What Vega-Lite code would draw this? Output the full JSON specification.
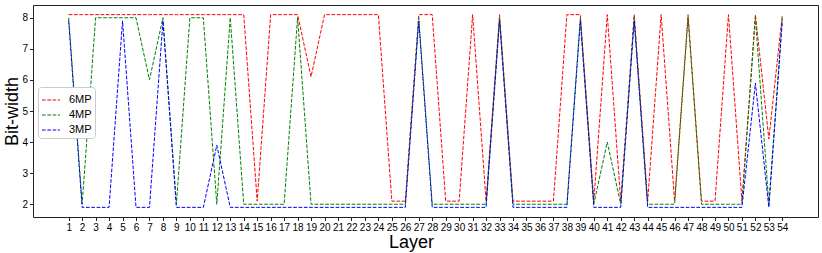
{
  "$schema": "https://vega.github.io/schema/vega-lite/v6.json",
  "autosize": {"type": "none"},
  "width": 785,
  "height": 212,
  "padding": {"left": 33, "top": 5, "right": 4, "bottom": 36},
  "background": "white",
  "config": {
    "font": "Liberation Sans",
    "view": {"stroke": "#222222", "strokeWidth": 1}
  },
  "data": {"values": [
    {"layer":1,"6MP":8.1,"4MP":8,"3MP":7.9},
    {"layer":2,"6MP":8.1,"4MP":2,"3MP":1.9},
    {"layer":3,"6MP":8.1,"4MP":8,"3MP":1.9},
    {"layer":4,"6MP":8.1,"4MP":8,"3MP":1.9},
    {"layer":5,"6MP":8.1,"4MP":8,"3MP":7.9},
    {"layer":6,"6MP":8.1,"4MP":8,"3MP":1.9},
    {"layer":7,"6MP":8.1,"4MP":6,"3MP":1.9},
    {"layer":8,"6MP":8.1,"4MP":8,"3MP":7.9},
    {"layer":9,"6MP":8.1,"4MP":2,"3MP":1.9},
    {"layer":10,"6MP":8.1,"4MP":8,"3MP":1.9},
    {"layer":11,"6MP":8.1,"4MP":8,"3MP":1.9},
    {"layer":12,"6MP":8.1,"4MP":2,"3MP":3.9},
    {"layer":13,"6MP":8.1,"4MP":8,"3MP":1.9},
    {"layer":14,"6MP":8.1,"4MP":2,"3MP":1.9},
    {"layer":15,"6MP":2.1,"4MP":2,"3MP":1.9},
    {"layer":16,"6MP":8.1,"4MP":2,"3MP":1.9},
    {"layer":17,"6MP":8.1,"4MP":2,"3MP":1.9},
    {"layer":18,"6MP":8.1,"4MP":8,"3MP":1.9},
    {"layer":19,"6MP":6.1,"4MP":2,"3MP":1.9},
    {"layer":20,"6MP":8.1,"4MP":2,"3MP":1.9},
    {"layer":21,"6MP":8.1,"4MP":2,"3MP":1.9},
    {"layer":22,"6MP":8.1,"4MP":2,"3MP":1.9},
    {"layer":23,"6MP":8.1,"4MP":2,"3MP":1.9},
    {"layer":24,"6MP":8.1,"4MP":2,"3MP":1.9},
    {"layer":25,"6MP":2.1,"4MP":2,"3MP":1.9},
    {"layer":26,"6MP":2.1,"4MP":2,"3MP":1.9},
    {"layer":27,"6MP":8.1,"4MP":8,"3MP":7.9},
    {"layer":28,"6MP":8.1,"4MP":2,"3MP":1.9},
    {"layer":29,"6MP":2.1,"4MP":2,"3MP":1.9},
    {"layer":30,"6MP":2.1,"4MP":2,"3MP":1.9},
    {"layer":31,"6MP":8.1,"4MP":2,"3MP":1.9},
    {"layer":32,"6MP":2.1,"4MP":2,"3MP":1.9},
    {"layer":33,"6MP":8.1,"4MP":8,"3MP":7.9},
    {"layer":34,"6MP":2.1,"4MP":2,"3MP":1.9},
    {"layer":35,"6MP":2.1,"4MP":2,"3MP":1.9},
    {"layer":36,"6MP":2.1,"4MP":2,"3MP":1.9},
    {"layer":37,"6MP":2.1,"4MP":2,"3MP":1.9},
    {"layer":38,"6MP":8.1,"4MP":2,"3MP":1.9},
    {"layer":39,"6MP":8.1,"4MP":8,"3MP":7.9},
    {"layer":40,"6MP":2.1,"4MP":2,"3MP":1.9},
    {"layer":41,"6MP":8.1,"4MP":4,"3MP":1.9},
    {"layer":42,"6MP":2.1,"4MP":2,"3MP":1.9},
    {"layer":43,"6MP":8.1,"4MP":8,"3MP":7.9},
    {"layer":44,"6MP":2.1,"4MP":2,"3MP":1.9},
    {"layer":45,"6MP":8.1,"4MP":2,"3MP":1.9},
    {"layer":46,"6MP":2.1,"4MP":2,"3MP":1.9},
    {"layer":47,"6MP":8.1,"4MP":8,"3MP":1.9},
    {"layer":48,"6MP":2.1,"4MP":2,"3MP":1.9},
    {"layer":49,"6MP":2.1,"4MP":2,"3MP":1.9},
    {"layer":50,"6MP":8.1,"4MP":2,"3MP":1.9},
    {"layer":51,"6MP":2.1,"4MP":2,"3MP":1.9},
    {"layer":52,"6MP":8.1,"4MP":8,"3MP":5.9},
    {"layer":53,"6MP":4.1,"4MP":2,"3MP":1.9},
    {"layer":54,"6MP":8.1,"4MP":8,"3MP":7.9}
  ]},
  "transform": [{"fold": ["6MP", "4MP", "3MP"], "as": ["series", "bits"]}],
  "mark": {"type": "line", "strokeWidth": 1, "strokeDash": [3.7, 1.6]},
  "encoding": {
    "x": {
      "field": "layer", "type": "quantitative",
      "scale": {"domain": [-1.65, 56.65], "nice": false, "zero": false},
      "axis": {
        "title": "Layer", "values": [1,2,3,4,5,6,7,8,9,10,11,12,13,14,15,16,17,18,19,20,21,22,23,24,25,26,27,28,29,30,31,32,33,34,35,36,37,38,39,40,41,42,43,44,45,46,47,48,49,50,51,52,53,54],
        "grid": false, "domain": false, "tickColor": "#222222", "tickSize": 3.5,
        "labelFontSize": 10, "labelColor": "#000000", "labelPadding": 2, "labelFlush": false, "labelOverlap": false,
        "titleFontSize": 18, "titleFontWeight": "normal", "titleColor": "#000000",
        "titleX": 378, "titleY": 25, "titleBaseline": "middle", "titleAlign": "center"
      }
    },
    "y": {
      "field": "bits", "type": "quantitative",
      "scale": {"domain": [1.59, 8.41], "nice": false, "zero": false},
      "axis": {
        "title": "Bit-width", "values": [2,3,4,5,6,7,8],
        "grid": false, "domain": false, "tickColor": "#222222", "tickSize": 3.5,
        "labelFontSize": 10, "labelColor": "#000000", "labelPadding": 2, "labelFlush": false,
        "titleFontSize": 18, "titleFontWeight": "normal", "titleColor": "#000000",
        "titleX": -21, "titleY": 106, "titleAngle": 270, "titleBaseline": "middle", "titleAlign": "center"
      }
    },
    "color": {
      "field": "series", "type": "nominal",
      "scale": {"domain": ["6MP", "4MP", "3MP"], "range": ["#ff0000", "#008000", "#0000ff"]},
      "legend": {
        "title": null, "orient": "none", "legendX": 5, "legendY": 82,
        "symbolType": "stroke", "symbolSize": 324, "symbolStrokeWidth": 1.2, "symbolDash": [3.7, 1.6],
        "labelFontSize": 11, "labelColor": "#000000", "labelOffset": 8, "rowPadding": 0,
        "fillColor": "white", "strokeColor": "#cccccc", "cornerRadius": 3, "padding": 3
      }
    }
  }
}
